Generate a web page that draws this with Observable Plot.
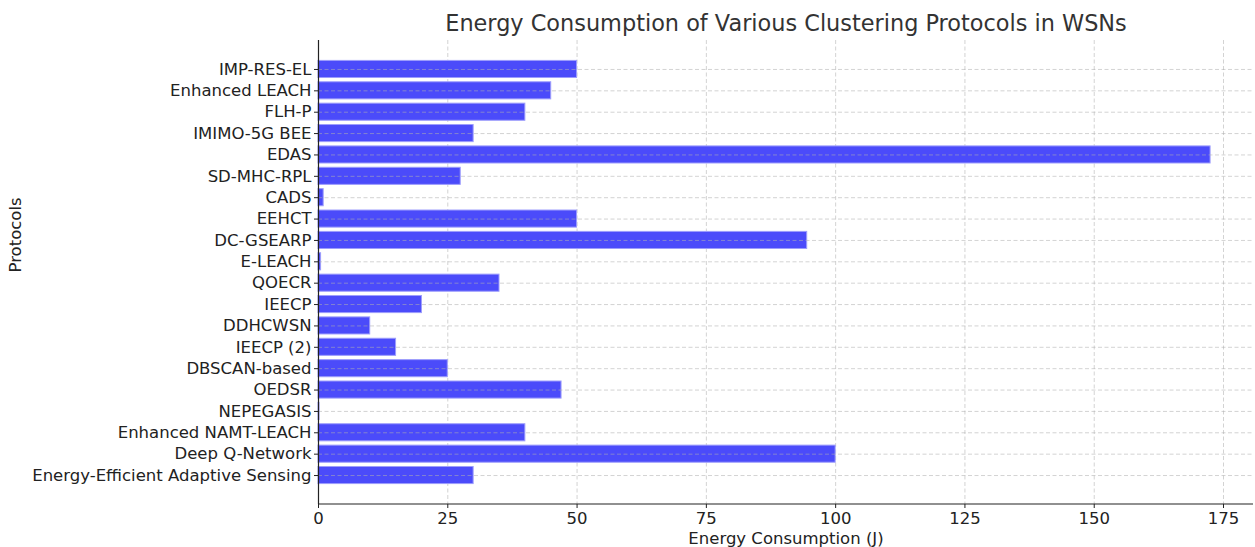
<!DOCTYPE html>
<html>
<head>
<meta charset="utf-8">
<script src="https://cdn.jsdelivr.net/npm/d3@7"></script>
<script src="https://cdn.jsdelivr.net/npm/@observablehq/plot@0.6"></script>
<style>
  html, body { margin: 0; padding: 0; background: #fff; }
  svg { display: block; }
</style>
</head>
<body>
<div id="chart"></div>
<script>
const protocols = [
  "IMP-RES-EL", "Enhanced LEACH", "FLH-P", "IMIMO-5G BEE", "EDAS",
  "SD-MHC-RPL", "CADS", "EEHCT", "DC-GSEARP", "E-LEACH",
  "QOECR", "IEECP", "DDHCWSN", "IEECP (2)", "DBSCAN-based",
  "OEDSR", "NEPEGASIS", "Enhanced NAMT-LEACH", "Deep Q-Network",
  "Energy-Efficient Adaptive Sensing"
];
const energy = [
  50, 45, 40, 30, 172.5,
  27.5, 1, 50, 94.5, 0.5,
  35, 20, 10, 15, 25,
  47, 0.2, 40, 100,
  30
];
const xTicks = [0, 25, 50, 75, 100, 125, 150, 175];
const titleText = "Energy Consumption of Various Clustering Protocols in WSNs";
const xLabel = "Energy Consumption (J)";
const yLabel = "Protocols";

const data = protocols.map((p, i) => ({protocol: p, value: energy[i]}));

const font = "DejaVu Sans, sans-serif";
const chart = Plot.plot({
  width: 1255,
  height: 547,
  marginLeft: 318,
  marginRight: 2,
  marginTop: 40,
  marginBottom: 43,
  style: {fontFamily: font, fontSize: "16.5px", color: "#222", background: "#fff"},
  x: {domain: [0, 180.8], axis: null},
  y: {domain: protocols, type: "band", paddingInner: 0.2, paddingOuter: 0.955, round: false, axis: null},
  marks: [
    Plot.ruleX(xTicks, {stroke: "#b0b0b0", strokeOpacity: 0.7, strokeDasharray: "4,2.5", strokeWidth: 0.8}),
    Plot.barX(data, {x: "value", y: "protocol", fill: "#4b4bfa", stroke: "#9d9dfc", strokeWidth: 1}),
    Plot.ruleY(protocols, {y: d => d, stroke: "#b0b0b0", strokeOpacity: 0.7, strokeDasharray: "4,2.5", strokeWidth: 0.8}),
    Plot.axisY({tickSize: 4, tickPadding: 3, fontSize: 16.5, label: null, stroke: "#222", fill: "#222"}),
    Plot.axisX({ticks: xTicks, tickSize: 4, tickPadding: 4, fontSize: 16.5, label: null, tickFormat: d => d, stroke: "#222", fill: "#222"}),
    Plot.ruleX([0], {stroke: "#222", strokeWidth: 1.2}),
    Plot.text([titleText], {frameAnchor: "top", lineAnchor: "middle", dy: -17, fontSize: 22.4, fill: "#333", text: d => d}),
    Plot.text([xLabel], {frameAnchor: "bottom", lineAnchor: "middle", dy: 34, fontSize: 16.5, fill: "#222", text: d => d}),
    Plot.text([yLabel], {frameAnchor: "left", lineAnchor: "middle", dx: -303, rotate: -90, fontSize: 16.5, fill: "#222", text: d => d})
  ]
});
document.getElementById("chart").appendChild(chart);
// bottom spine
const svg = d3.select(chart);
svg.append("line")
  .attr("x1", 318).attr("x2", 1253)
  .attr("y1", 504).attr("y2", 504)
  .attr("stroke", "#222").attr("stroke-width", 1.2);
</script>
</body>
</html>
